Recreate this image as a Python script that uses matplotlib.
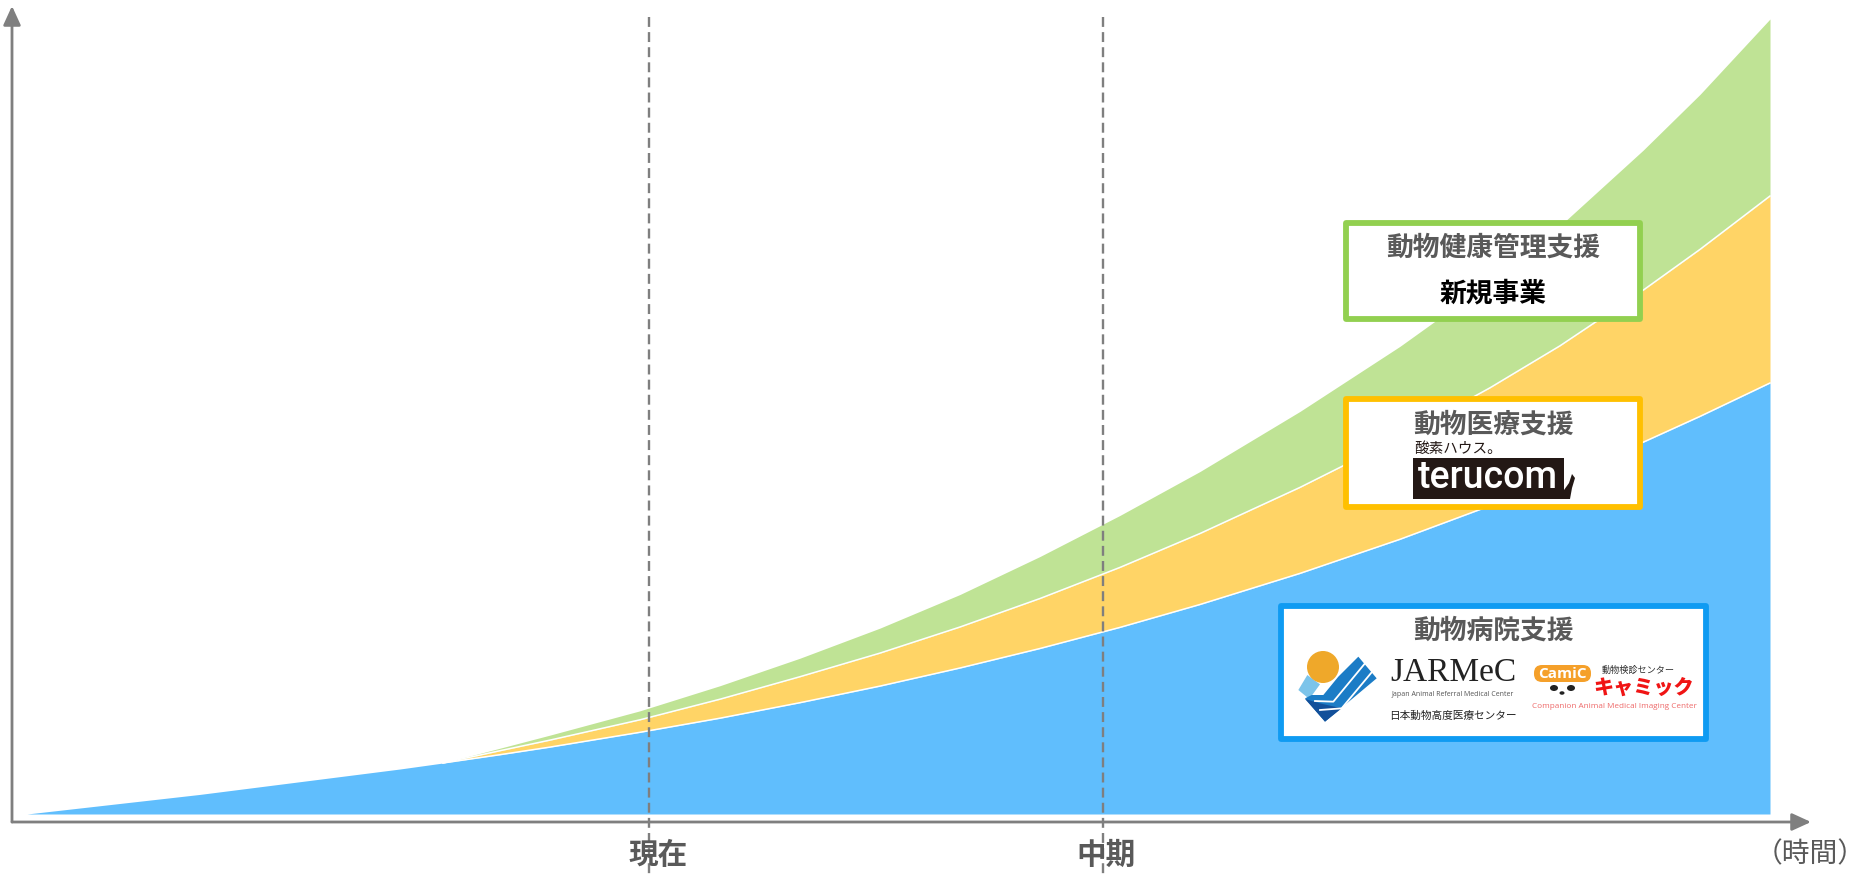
import matplotlib
matplotlib.use('Agg')
import matplotlib.pyplot as plt
from matplotlib.patches import Rectangle, Circle, Polygon, FancyBboxPatch, Ellipse

plt.rcParams['font.family'] = ['Noto Sans CJK JP', 'DejaVu Sans']

# Curves: time position, upper edge of each stacked area
time_pos = [27, 200, 400, 443, 500, 550, 640, 720, 800, 880, 960, 1040, 1120, 1200, 1300, 1400, 1490, 1560, 1643, 1700, 1770]
hospital = [0, 19.6, 45, 51, 59.3, 66.9, 81.7, 95.8, 111.3, 127.9, 146, 165.5, 186.6, 209.5, 240.6, 274.7, 308.2, 336.2, 371.7, 397.6, 431]
medical = [0, 19.6, 45, 51, 63.3, 73.9, 94.2, 114.8, 137.3, 160.9, 187, 215.5, 246.6, 280.5, 326.6, 376.7, 426.2, 468.2, 523.7, 564.6, 618]
health = [0, 19.6, 45, 51, 65.8, 78.9, 103.2, 128.3, 155.8, 185.9, 219.5, 257.5, 298.6, 342.5, 402.6, 467.7, 532.2, 588.2, 663.7, 719.6, 795]

marker_pos = [649, 1103]
marker_labels = ['現在', '中期']
time_label = '（時間）'

GRAY = '#7f7f7f'
TEXT = '#595959'

fig = plt.figure(figsize=(18.66, 8.75), dpi=100)

# Main axes: height 0 sits on the bottom of the blue area
ax = fig.add_axes([0, 0, 1, 1])
ax.set_xlim(0, 1866)
ax.set_ylim(-61, 814)
ax.axis('off')

ax.fill_between(time_pos, hospital, medical, color='#ffd466', lw=0)
ax.fill_between(time_pos, medical, health, color='#bfe395', lw=0)
ax.fill_between(time_pos, 0, hospital, color='#60befd', lw=0)
ax.plot(time_pos[3:], medical[3:], color='white', lw=1.1)
ax.plot(time_pos[3:], hospital[3:], color='white', lw=1.1)

# Overlay in picture coordinates for the axes arrows, boxes and logos
ov = fig.add_axes([0, 0, 1, 1])
ov.set_xlim(0, 1866)
ov.set_ylim(875, 0)
ov.axis('off')
ov.patch.set_alpha(0)

for x in marker_pos:
    ov.plot([x, x], [17, 875], color=GRAY, lw=1.7, ls=(0, (4.2, 2.2)))

arrow = dict(arrowstyle='-|>,head_length=1.05,head_width=0.48', color=GRAY, lw=2, mutation_scale=11,
             shrinkA=0, shrinkB=0)
ov.annotate('', xy=(1811, 822), xytext=(12, 822), arrowprops=arrow)
ov.annotate('', xy=(12, 6), xytext=(12, 822), arrowprops=arrow)

ov.text(658, 855, marker_labels[0], fontsize=21.3, fontweight='bold', color=TEXT, ha='center', va='center')
ov.text(1106, 855, marker_labels[1], fontsize=21.3, fontweight='bold', color=TEXT, ha='center', va='center')
ov.text(1810, 854, time_label, fontsize=20, color=TEXT, ha='center', va='center')


def box(x0, y0, x1, y1, color):
    ov.add_patch(Rectangle((x0 + 3, y0 + 3), x1 - x0 - 6, y1 - y0 - 6, fc='white', ec=color, lw=4.2,
                           joinstyle='round', zorder=3))


def label(x, y, s, size, color=TEXT, weight='normal', ha='center', **kw):
    ov.text(x, y + 3, s, fontsize=size, color=color, fontweight=weight, ha=ha, va='center', zorder=5, **kw)


# New business box
box(1343, 220, 1643, 322, '#92d050')
label(1493, 245, '動物健康管理支援', 19.3, weight='bold')
label(1493, 290, '新規事業', 19.3, color='black', weight='bold')

# Medical support box
box(1343, 396, 1643, 510, '#ffc000')
label(1493, 422, '動物医療支援', 19.3, weight='bold')
label(1414, 446, '酸素ハウス。', 10.5, color='#231815', ha='left')
ov.add_patch(Rectangle((1413, 458), 151, 41, fc='#231815', ec='none', zorder=4))
label(1488, 474, 'terucom', 27, color='white', family='Roboto', weight='medium')
ov.add_patch(Polygon([(1564, 490), (1569, 483), (1572, 474), (1575, 478), (1572, 488), (1570, 499), (1564, 499)],
                     fc='#231815', ec='none', zorder=4))

# Hospital support box
box(1278, 603, 1709, 742, '#0f9bf2')
label(1493, 628, '動物病院支援', 19.3, weight='bold')


# First logo, drawn in the crop's own pixel grid
def lg(points):
    return [(1270 + px / 3, 595 + py / 3) for px, py in points]


ov.add_patch(Polygon(lg([(85, 285), (112, 240), (150, 268), (118, 312)]), fc='#7cc4ea', ec='none', zorder=4))
ov.add_patch(Polygon(lg([(105, 310), (165, 380), (320, 250), (265, 185), (205, 245), (160, 300), (125, 300)]),
                     fc='#1b7cc6', ec='none', zorder=4))
ov.add_patch(Polygon(lg([(105, 312), (165, 380), (215, 340), (150, 325)]), fc='#12509a', ec='none', zorder=4))
ov.plot(*zip(*lg([(135, 318), (190, 320), (285, 205)])), color='white', lw=1.3, zorder=4)
ov.plot(*zip(*lg([(150, 345), (215, 340), (305, 232)])), color='white', lw=1.3, zorder=4)
ov.add_patch(Circle((1323, 667), 16, fc='#efa82a', ec='none', zorder=4))

# JARMeC logo
label(1453, 670, 'JARMeC', 24, color='#222222', family='Liberation Serif')
label(1453, 692, 'Japan Animal Referral Medical Center', 5.05, color='#555555', family='Open Sans')
label(1453, 713, '日本動物高度医療センター', 7.7, color='#222222')

# CamiC logo
ov.add_patch(FancyBboxPatch((1538, 669), 49, 9, boxstyle='round,pad=4,rounding_size=8', fc='#f5a02a', ec='none', zorder=4))
label(1562, 670.5, 'CamiC', 11, color='white', weight='bold', family='Open Sans')
ov.add_patch(Ellipse((1554, 688), 8, 6, fc='#222222', ec='none', zorder=4))
ov.add_patch(Ellipse((1571, 688), 8, 6, fc='#222222', ec='none', zorder=4))
ov.add_patch(Ellipse((1562, 693), 5, 3.5, fc='#222222', ec='none', zorder=4))
label(1638, 667, '動物検診センター', 6.6, color='#333333')
label(1644, 685, 'キャミック', 14.5, color='#f01414', weight='black')
label(1614, 703, 'Companion Animal Medical Imaging Center', 5.85, color='#ee6a6a', family='Open Sans')

fig.savefig('out.png', dpi=100)
